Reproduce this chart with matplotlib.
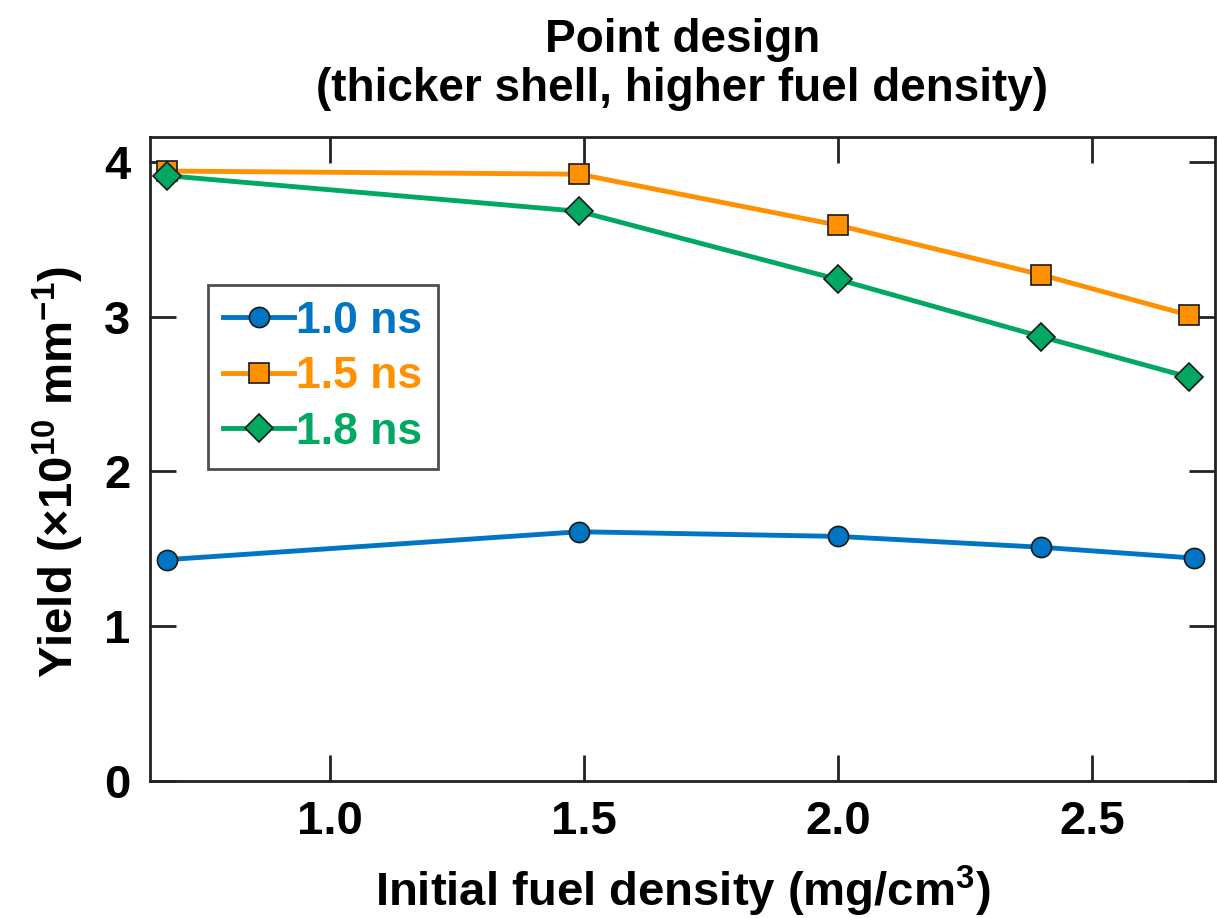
import numpy as np
import matplotlib
matplotlib.use('Agg')
import matplotlib.pyplot as plt

plt.rcParams['font.family'] = ['Liberation Sans', 'DejaVu Sans']
plt.rcParams['font.weight'] = 'bold'
plt.rcParams['mathtext.fontset'] = 'custom'
plt.rcParams['mathtext.default'] = 'bf'
plt.rcParams['mathtext.bf'] = 'Liberation Sans:bold'
plt.rcParams['mathtext.rm'] = 'Liberation Sans'

# yield vs initial fuel density for three pulse lengths
density_10 = [0.68, 1.49, 2.00, 2.40, 2.70]
yield_10 = [1.43, 1.61, 1.58, 1.51, 1.44]
density_15 = [0.68, 1.49, 2.00, 2.40, 2.69]
yield_15 = [3.94, 3.92, 3.59, 3.27, 3.01]
density_18 = [0.68, 1.49, 2.00, 2.40, 2.69]
yield_18 = [3.91, 3.68, 3.24, 2.87, 2.61]

labels = ['1.0 ns', '1.5 ns', '1.8 ns']
colors = ['#0075C4', '#FF9000', '#00A862']

fig = plt.figure(figsize=(12.17, 9.18), dpi=100)
ax = fig.add_axes([150/1217, 1-781/918, (1215-150)/1217, (781-137)/918])

ax.plot(density_10, yield_10, '-o', color=colors[0], lw=3.5, ms=14.5,
        mec='#1a1a1a', mew=1.2, label=labels[0], zorder=3)
ax.plot(density_15, yield_15, '-s', color=colors[1], lw=3.5, ms=15,
        mec='#1a1a1a', mew=1.2, label=labels[1], zorder=3)
ax.plot(density_18, yield_18, '-D', color=colors[2], lw=3.5, ms=14,
        mec='#1a1a1a', mew=1.2, label=labels[2], zorder=4)

ax.set_xlim(0.646, 2.742)
ax.set_ylim(0, 4.16)
ax.set_xticks([1.0, 1.5, 2.0, 2.5])
ax.set_xticklabels(['1.0', '1.5', '2.0', '2.5'])
ax.set_yticks([0, 1, 2, 3, 4])

for s in ax.spines.values():
    s.set_linewidth(2)
    s.set_color('#222222')
ax.tick_params(direction='in', length=19, width=2, color='#222222',
               top=True, right=True, labelsize=34, pad=14)
for lab in ax.get_xticklabels() + ax.get_yticklabels():
    lab.set_fontweight('bold')

ax.set_xlabel('Initial fuel density (mg/cm$^{3}$)', fontsize=34,
              fontweight='bold', labelpad=14)
ax.set_ylabel('Yield (×10$^{10}$ mm$^{-1}$)', fontsize=34,
              fontweight='bold', labelpad=12)
ax.yaxis.set_label_coords(-0.060, 0.48)
ax.set_title('Point design\n(thicker shell, higher fuel density)',
             fontsize=33, fontweight='bold', pad=26, linespacing=1.15)

leg = ax.legend(loc='upper left', bbox_to_anchor=(0.054, 0.77),
                fontsize=32, frameon=True, fancybox=False,
                handlelength=1.6, handletextpad=0.05, borderpad=0.35,
                labelspacing=0.33, borderaxespad=0)
leg.get_frame().set_edgecolor('#222222')
leg.get_frame().set_linewidth(2)
for txt, c in zip(leg.get_texts(), colors):
    txt.set_color(c)
    txt.set_fontweight('bold')

fig.savefig('out.png', dpi=100)
